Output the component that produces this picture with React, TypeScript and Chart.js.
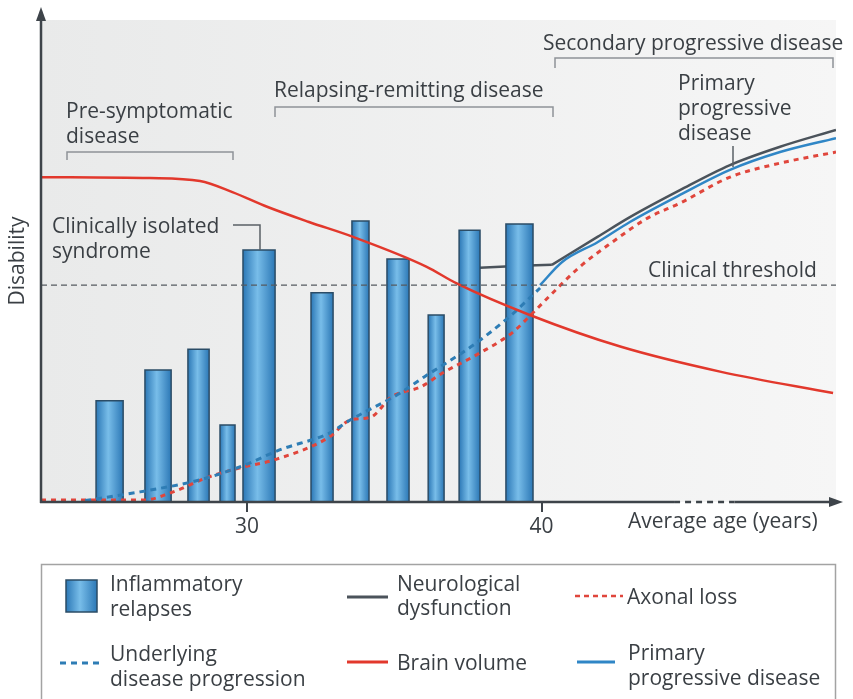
import React, { useEffect, useRef } from 'react';
import { Chart, registerables } from 'chart.js';

Chart.register(...registerables);

// ---------- data (age in years, disability 0-100) ----------
const xTickValues = [30, 40];
const clinicalThreshold = 45;

const relapseStart = [24.87, 26.53, 27.99, 29.08, 29.86, 32.17, 33.56, 34.75, 36.15, 37.2, 38.79];
const relapseEnd = [25.79, 27.42, 28.71, 29.59, 30.95, 32.92, 34.14, 35.5, 36.69, 37.91, 39.71];
const relapseHeight = [21.0, 27.4, 31.7, 16.0, 52.3, 43.4, 58.3, 50.4, 38.8, 56.4, 57.7];

const brainAge = [23.0, 26.7, 28.4, 29.5, 30.7, 32.1, 33.6, 36.1, 37.1, 39.6, 42.7, 46.1, 49.9];
const brainVolume = [67.4, 67.2, 66.6, 64.3, 61.2, 58.1, 55.0, 48.8, 45.4, 38.8, 32.2, 27.0, 22.6];

const underlyingAge = [24.5, 26.36, 28.4, 29.93, 31.1, 32.8, 33.5, 35.2, 36.0, 37.6, 38.9, 39.95];
const underlyingValue = [0.3, 2.1, 4.6, 7.7, 10.8, 14.3, 17.0, 22.6, 25.9, 32.2, 38.4, 44.4];

const axonalAge = [23.0, 26.5, 27.4, 28.7, 29.9, 30.9, 32.8, 33.5, 34.2, 34.9, 35.9, 36.65, 37.9, 39.0, 39.7, 40.3, 41.3, 42.4, 43.6, 44.7, 46.4, 48.1, 50.0];
const axonalValue = [0.4, 0.4, 1.9, 5.2, 7.3, 8.7, 13.5, 17.0, 17.6, 21.8, 23.9, 26.8, 30.9, 35.1, 39.2, 42.9, 48.8, 53.9, 58.9, 62.0, 67.4, 70.3, 72.6];

const primaryAge = [39.95, 40.7, 41.9, 43.0, 44.7, 46.4, 48.1, 50.0];
const primaryValue = [45.0, 49.8, 53.9, 58.1, 63.7, 68.9, 72.6, 75.5];

const neuroFlatAge = [37.55, 39.3, 40.35];
const neuroFlatValue = [48.5, 49.0, 49.2];
const neuroAge = [40.35, 41.9, 43.0, 44.7, 46.4, 48.1, 50.0];
const neuroValue = [49.2, 55.0, 59.1, 64.7, 69.9, 73.7, 77.2];

const legendLabels = [
  ['Inflammatory', 'relapses'],
  ['Neurological', 'dysfunction'],
  ['Axonal loss'],
  ['Underlying', 'disease progression'],
  ['Brain volume'],
  ['Primary', 'progressive disease'],
];

// ---------- styles ----------
const FONT = '"Open Sans", "Noto Sans", sans-serif';
const TEXT = '#3a3f44';
const AXIS = '#3e444a';
const RED = '#e2382c';
const RED_DASH = '#e0463c';
const BLUE = '#2f86c6';
const BLUE_DASH = '#2e7db5';
const GREY = '#4b535b';
const BRACKET = '#8e9398';

const pts = (xs: number[], ys: number[]) => xs.map((x, i) => ({ x, y: ys[i] }));

const barGradient = (ctx: CanvasRenderingContext2D, x0: number, x1: number) => {
  const g = ctx.createLinearGradient(x0, 0, x1, 0);
  g.addColorStop(0, '#2c78b6');
  g.addColorStop(0.45, '#78bde9');
  g.addColorStop(1, '#2c78b6');
  return g;
};

const line = (ctx: CanvasRenderingContext2D, x0: number, y0: number, x1: number, y1: number, color: string, width: number, dash: number[] = []) => {
  ctx.save();
  ctx.strokeStyle = color;
  ctx.lineWidth = width;
  ctx.setLineDash(dash);
  ctx.beginPath();
  ctx.moveTo(x0, y0);
  ctx.lineTo(x1, y1);
  ctx.stroke();
  ctx.restore();
};

const text = (ctx: CanvasRenderingContext2D, s: string, x: number, y: number) => {
  ctx.save();
  ctx.font = `21px ${FONT}`;
  ctx.fillStyle = TEXT;
  ctx.textBaseline = 'alphabetic';
  ctx.textAlign = 'left';
  ctx.fillText(s, x, y);
  ctx.restore();
};

const decorPlugin = {
  id: 'decor',
  beforeDraw(chart: any) {
    const { ctx, chartArea: a } = chart;
    const g = ctx.createLinearGradient(a.left, 0, a.right, 0);
    g.addColorStop(0, '#e9eaea');
    g.addColorStop(1, '#f6f6f6');
    ctx.save();
    ctx.fillStyle = g;
    ctx.fillRect(a.left, a.top, a.right - a.left, a.bottom - a.top);
    ctx.restore();
  },
  afterDraw(chart: any) {
    const { ctx, chartArea: a } = chart;
    const xs = chart.scales.x;
    // axes
    ctx.save();
    ctx.fillStyle = AXIS;
    line(ctx, a.left, a.bottom + 1, a.left, 16, AXIS, 2.5);
    ctx.beginPath();
    ctx.moveTo(a.left, 7);
    ctx.lineTo(a.left - 5, 21);
    ctx.lineTo(a.left + 5, 21);
    ctx.closePath();
    ctx.fill();
    const breakA = xs.getPixelForValue(44.5);
    const breakB = xs.getPixelForValue(46.55);
    line(ctx, a.left - 1, a.bottom, breakA, a.bottom, AXIS, 2.5);
    line(ctx, breakA, a.bottom, breakB, a.bottom, AXIS, 2.5, [6, 5]);
    line(ctx, breakB, a.bottom, 832, a.bottom, AXIS, 2.5);
    ctx.beginPath();
    ctx.moveTo(843, a.bottom);
    ctx.lineTo(829, a.bottom - 5);
    ctx.lineTo(829, a.bottom + 5);
    ctx.closePath();
    ctx.fill();
    ctx.restore();

    // x title
    text(ctx, 'Average age (years)', 628, 528);

    // brackets
    const bracket = (x0: number, x1: number, y: number, h: number) => {
      ctx.save();
      ctx.strokeStyle = BRACKET;
      ctx.lineWidth = 1.5;
      ctx.beginPath();
      ctx.moveTo(x0, y + h);
      ctx.lineTo(x0, y);
      ctx.lineTo(x1, y);
      ctx.lineTo(x1, y + h);
      ctx.stroke();
      ctx.restore();
    };
    bracket(67, 233, 152, 8);
    bracket(275, 553, 107, 10);
    bracket(555, 833, 58, 10);

    text(ctx, 'Pre-symptomatic', 66, 118);
    text(ctx, 'disease', 66, 143);
    text(ctx, 'Relapsing-remitting disease', 274, 97);
    text(ctx, 'Secondary progressive disease', 543, 50);
    text(ctx, 'Primary', 678, 90);
    text(ctx, 'progressive', 678, 115);
    text(ctx, 'disease', 678, 140);
    text(ctx, 'Clinically isolated', 52, 233);
    text(ctx, 'syndrome', 52, 258);
    text(ctx, 'Clinical threshold', 648, 277);

    // pointers
    ctx.save();
    ctx.strokeStyle = '#5a6066';
    ctx.lineWidth = 1.5;
    ctx.beginPath();
    ctx.moveTo(233, 225);
    ctx.lineTo(260, 225);
    ctx.lineTo(260, 250);
    ctx.stroke();
    ctx.beginPath();
    ctx.moveTo(733, 146);
    ctx.lineTo(733, 167);
    ctx.stroke();
    ctx.restore();

    // legend
    ctx.save();
    ctx.strokeStyle = '#a3a3a3';
    ctx.lineWidth = 1.5;
    ctx.strokeRect(41.5, 564.5, 794, 160);
    ctx.fillStyle = barGradient(ctx, 66, 97);
    ctx.fillRect(66, 580, 31, 32);
    ctx.strokeStyle = '#2b4c66';
    ctx.lineWidth = 1.5;
    ctx.strokeRect(66, 580, 31, 32);
    ctx.restore();
    line(ctx, 60, 663, 102, 663, BLUE_DASH, 3, [6, 5]);
    line(ctx, 347, 597, 388, 597, GREY, 3);
    line(ctx, 347, 662, 388, 662, RED, 3);
    line(ctx, 575, 596, 623, 596, RED_DASH, 2.5, [5, 4]);
    line(ctx, 577, 662, 615, 662, BLUE, 3);

    const lx = [110, 397, 627, 110, 397, 628];
    const ly = [[591, 616], [591, 615], [604], [661, 686], [670], [660, 685]];
    legendLabels.forEach((lines, i) => {
      lines.forEach((s, j) => text(ctx, s, lx[i], ly[i][j]));
    });
  },
};

export default function App() {
  const ref = useRef<HTMLCanvasElement | null>(null);

  useEffect(() => {
    if (!ref.current) return;
    Chart.defaults.font.family = FONT;

    const barSets = relapseStart.map((s, i) => ({
      type: 'line' as const,
      label: 'Inflammatory relapses',
      data: [
        { x: s, y: 0 },
        { x: s, y: relapseHeight[i] },
        { x: relapseEnd[i], y: relapseHeight[i] },
        { x: relapseEnd[i], y: 0 },
      ],
      borderColor: '#2b4c66',
      borderWidth: 1.5,
      tension: 0,
      fill: 'origin',
      pointRadius: 0,
      order: 5,
      backgroundColor: (c: any) => {
        const chart = c.chart;
        if (!chart.chartArea) return '#4a9fd8';
        const xsc = chart.scales.x;
        return barGradient(chart.ctx, xsc.getPixelForValue(s), xsc.getPixelForValue(relapseEnd[i]));
      },
    }));

    const common = { pointRadius: 0, fill: false, borderCapStyle: 'butt' as const };

    const chart = new Chart(ref.current, {
      type: 'line',
      data: {
        datasets: [
          {
            label: 'Clinical threshold',
            data: [{ x: 23, y: clinicalThreshold }, { x: 50, y: clinicalThreshold }],
            borderColor: '#555b60',
            borderWidth: 1.2,
            borderDash: [6, 4],
            tension: 0,
            order: 0,
            ...common,
          },
          {
            label: 'Brain volume',
            data: pts(brainAge, brainVolume),
            borderColor: RED,
            borderWidth: 2.5,
            cubicInterpolationMode: 'monotone',
            order: 1,
            ...common,
          },
          {
            label: 'Underlying disease progression',
            data: pts(underlyingAge, underlyingValue),
            borderColor: BLUE_DASH,
            borderWidth: 3,
            borderDash: [6, 5],
            cubicInterpolationMode: 'monotone',
            order: 2,
            ...common,
          },
          {
            label: 'Axonal loss',
            data: pts(axonalAge, axonalValue),
            borderColor: RED_DASH,
            borderWidth: 3,
            borderDash: [5, 5],
            cubicInterpolationMode: 'monotone',
            order: 2,
            ...common,
          },
          ...barSets,
          {
            label: 'Primary progressive disease',
            data: pts(primaryAge, primaryValue),
            borderColor: BLUE,
            borderWidth: 2.5,
            cubicInterpolationMode: 'monotone',
            order: 8,
            ...common,
          },
          {
            label: 'Neurological dysfunction',
            data: pts(neuroFlatAge, neuroFlatValue),
            borderColor: GREY,
            borderWidth: 2.5,
            tension: 0,
            order: 9,
            ...common,
          },
          {
            label: 'Neurological dysfunction',
            data: pts(neuroAge, neuroValue),
            borderColor: GREY,
            borderWidth: 2.5,
            cubicInterpolationMode: 'monotone',
            order: 9,
            ...common,
          },
        ] as any,
      },
      options: {
        responsive: false,
        animation: false,
        events: [],
        layout: { padding: { top: 20, right: 17, bottom: 139, left: 0 } },
        plugins: {
          legend: { display: false },
          tooltip: { enabled: false },
          title: { display: false },
        },
        scales: {
          x: {
            type: 'linear',
            min: 23,
            max: 50,
            afterBuildTicks: (s: any) => {
              s.ticks = xTickValues.map((v) => ({ value: v }));
            },
            afterFit: (s: any) => {
              s.height = 58;
            },
            ticks: {
              autoSkip: false,
              maxRotation: 0,
              padding: 2,
              color: TEXT,
              font: { size: 21, family: FONT },
            },
            grid: {
              drawOnChartArea: false,
              drawTicks: true,
              tickLength: 10,
              color: AXIS,
              lineWidth: 2,
            },
            border: { display: false },
          },
          y: {
            type: 'linear',
            min: 0,
            max: 100,
            afterFit: (s: any) => {
              s.width = 41;
            },
            ticks: { display: false },
            grid: { display: false },
            border: { display: false },
            title: {
              display: true,
              text: 'Disability',
              color: TEXT,
              font: { size: 21, family: FONT },
              padding: { top: 5, bottom: 0 },
            },
          },
        },
      } as any,
      plugins: [decorPlugin],
    });

    return () => chart.destroy();
  }, []);

  return (
    <div style={{ position: 'absolute', left: 0, top: 0, width: 853, height: 699, background: '#fff' }}>
      <canvas ref={ref} width={853} height={699} style={{ display: 'block' }} />
    </div>
  );
}
